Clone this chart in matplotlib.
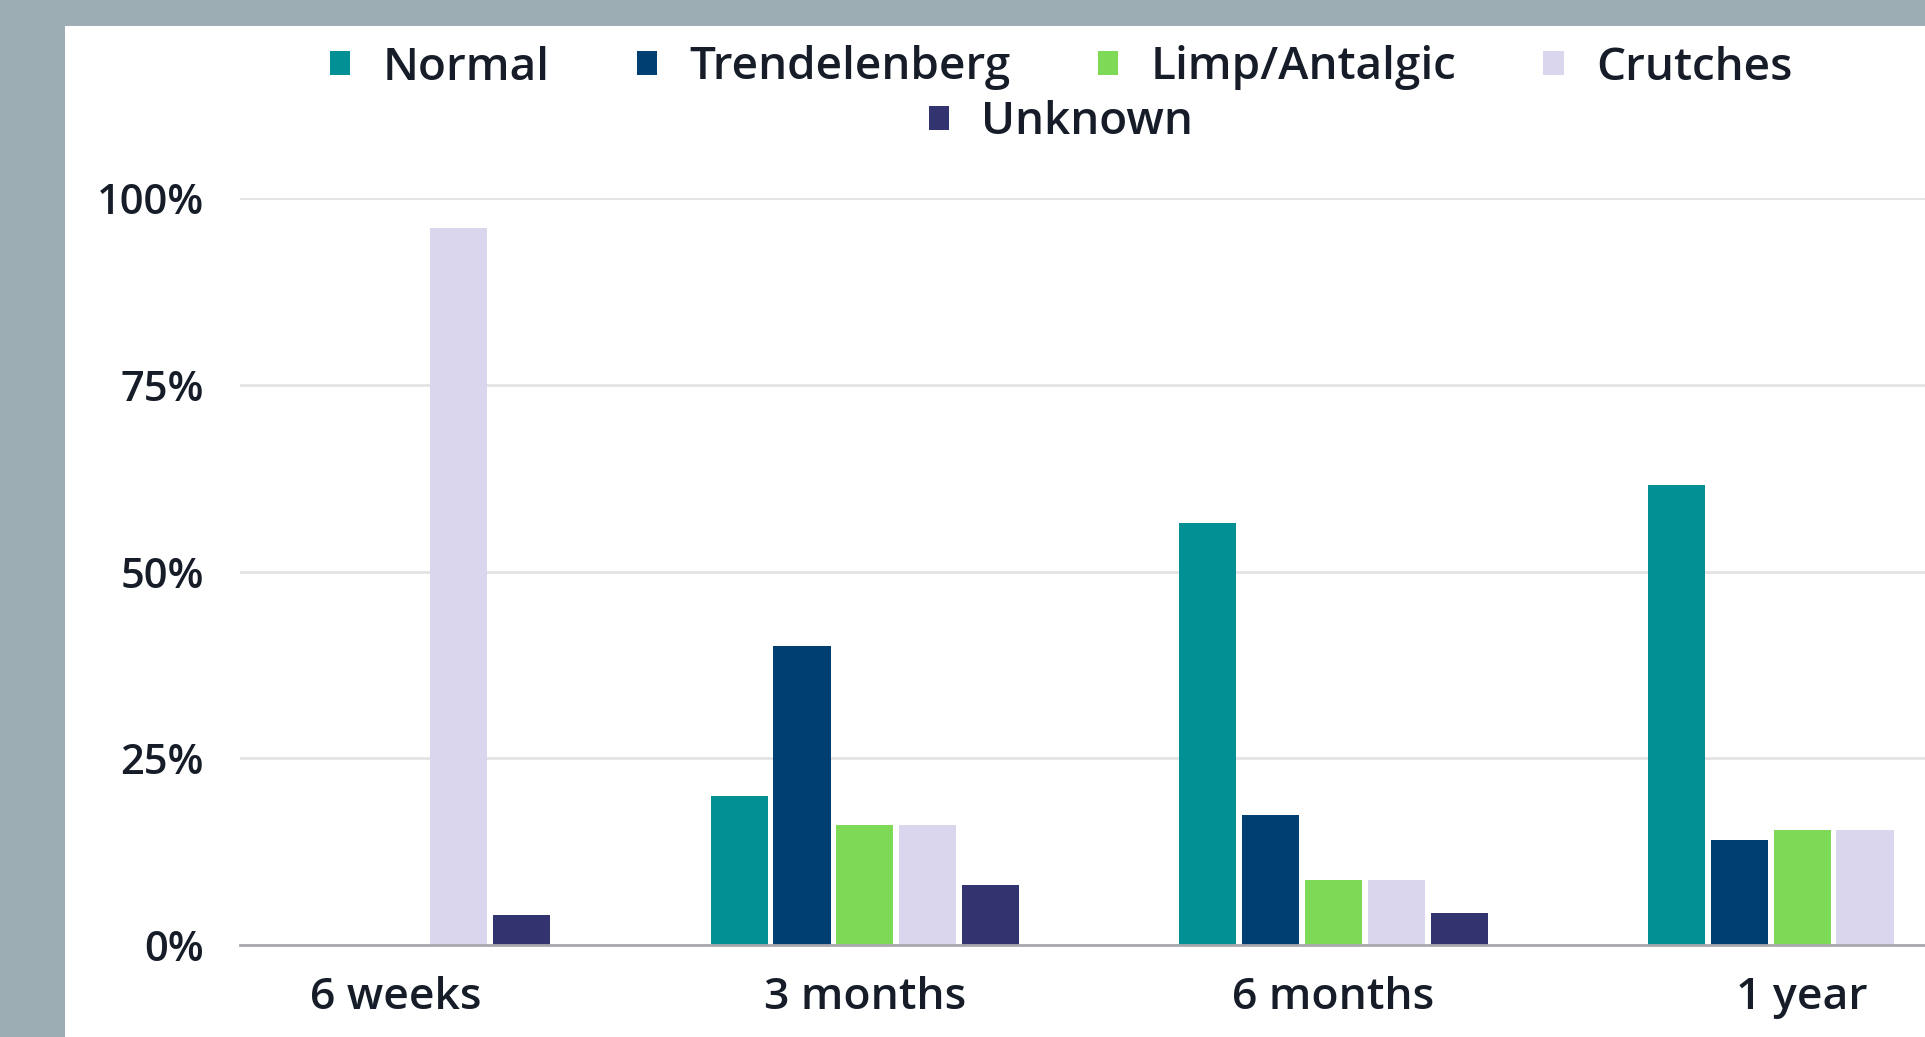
import matplotlib
matplotlib.use("Agg")
import matplotlib.pyplot as plt
import numpy as np
from matplotlib.patches import Patch

# data (percent)
periods = ["6 weeks", "3 months", "6 months", "1 year"]
gait = ["Normal", "Trendelenberg", "Limp/Antalgic", "Crutches", "Unknown"]
normal = [0, 20.0, 56.5, 61.6]
trendelenberg = [0, 40.0, 17.4, 14.0]
limp = [0, 16.0, 8.7, 15.4]
crutches = [96.0, 16.0, 8.7, 15.4]
unknown = [4.0, 8.0, 4.3, 0]
yticks = [0, 25, 50, 75, 100]

colors = ["#029094", "#003f72", "#7ed957", "#d9d6ee", "#33346f"]
txt = "#161d29"

plt.rcParams['font.family'] = ['Open Sans', 'DejaVu Sans']
plt.rcParams['font.weight'] = 'semibold'

fig = plt.figure(figsize=(19.25, 10.37), dpi=100)
fig.patch.set_facecolor("#9caeb4")

# white card behind the chart
bg = fig.add_axes([65/1925, 0, 1 - 65/1925, 1 - 26/1037], zorder=-1)
bg.set_facecolor("white")
bg.set_xticks([])
bg.set_yticks([])
for s in bg.spines.values():
    s.set_visible(False)

ax = fig.add_axes([240/1925, 1 - 945/1037, 1 - 240/1925, (945 - 198)/1037])
ax.set_facecolor("none")

series = [normal, trendelenberg, limp, crutches, unknown]
x = np.arange(len(periods))
slot = 0.134
for i, vals in enumerate(series):
    ax.bar(x + (i - 2) * slot, vals, width=0.122, color=colors[i], zorder=3)

ax.set_xlim(-0.333, 3.262)
ax.set_ylim(0, 100)
ax.set_yticks(yticks)
ax.set_yticklabels([f"{v}%" for v in yticks])
ax.set_xticks(x)
ax.set_xticklabels(periods)
ax.tick_params(axis="y", length=0, pad=26, labelsize=30, labelcolor=txt)
ax.tick_params(axis="x", length=0, pad=22, labelsize=32, labelcolor=txt)
ax.grid(axis="y", color="#e3e3e6", linewidth=2, zorder=0)
ax.set_axisbelow(True)
for s in ["top", "right", "left"]:
    ax.spines[s].set_visible(False)
ax.spines["bottom"].set_color("#a9a9ad")
ax.spines["bottom"].set_linewidth(2)
ax.spines["bottom"].set_zorder(4)

handles = [Patch(facecolor=c, edgecolor="none") for c in colors]
leg_kw = dict(frameon=False, fontsize=33, handlelength=0.45, handleheight=0.45,
              handletextpad=0.7, columnspacing=1.9, labelcolor=txt,
              borderaxespad=0, borderpad=0)
leg1 = fig.legend(handles[:4], gait[:4], ncol=4, loc="center",
                  bbox_to_anchor=(1061/1925, 1 - 68/1037), **leg_kw)
leg2 = fig.legend(handles[4:], gait[4:], ncol=1, loc="center",
                  bbox_to_anchor=(1061/1925, 1 - 123/1037), **leg_kw)

fig.savefig("out.png", dpi=100, facecolor=fig.get_facecolor())
